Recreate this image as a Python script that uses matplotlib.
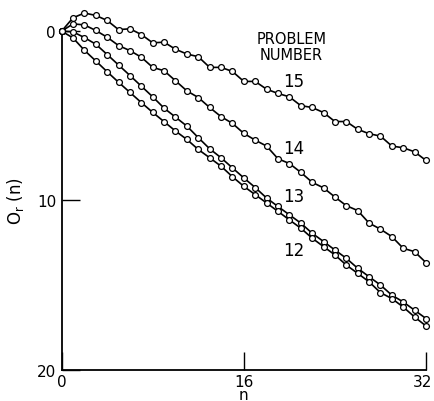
import matplotlib
matplotlib.use('Agg')
import matplotlib.pyplot as plt
import matplotlib.transforms as mtransforms
import numpy as np

# номера шагов
n = np.arange(0, 33)

# значения (ось Y перевёрнута)
prob15 = [0, -0.79, -1.07, -0.93, -0.63, -0.09, -0.14, 0.2, 0.69, 0.65, 1.07,
          1.35, 1.51, 2.14, 2.14, 2.38, 2.97, 2.97, 3.43, 3.68, 3.88,
          4.4, 4.51, 4.81, 5.34, 5.34, 5.8, 6.06, 6.2, 6.79, 6.89, 7.13, 7.64]
prob14 = [0, -0.43, -0.37, -0.04, 0.36, 0.85, 1.15, 1.54, 2.14, 2.34, 2.93,
          3.53, 3.92, 4.51, 5.05, 5.45, 6.04, 6.44, 6.79, 7.54, 7.82,
          8.34, 8.93, 9.26, 9.8, 10.31, 10.6, 11.34, 11.7, 12.14, 12.83, 13.03, 13.68]
prob13 = [0, 0.04, 0.38, 0.77, 1.38, 2.0, 2.62, 3.25, 3.88, 4.55, 5.08,
          5.61, 6.29, 6.95, 7.48, 8.08, 8.67, 9.24, 9.86, 10.36, 10.85,
          11.34, 11.94, 12.43, 12.93, 13.42, 14.01, 14.51, 15.0, 15.6, 16.0, 16.49, 16.98]
prob12 = [0, 0.4, 1.13, 1.76, 2.4, 3.02, 3.62, 4.22, 4.8, 5.35, 5.9,
          6.4, 6.99, 7.48, 7.98, 8.6, 9.17, 9.66, 10.15, 10.65, 11.15,
          11.64, 12.23, 12.73, 13.22, 13.82, 14.31, 14.81, 15.45, 15.8, 16.3, 16.89, 17.42]

curves = {'15': prob15, '14': prob14, '13': prob13, '12': prob12}
label_pos = {'15': (20.35, 2.93), '14': (20.4, 6.89), '13': (20.35, 9.76), '12': (20.4, 12.93)}

xticks = [0, 16, 32]
yticks = [0, 10, 20]

plt.rcParams['font.family'] = ['Liberation Sans Narrow', 'DejaVu Sans']

fig = plt.figure(figsize=(4.34, 4.02), dpi=100)
ax = fig.add_axes([0.142, 0.078, 0.8396, 0.842])

for name, vals in curves.items():
    ax.plot(n, vals, '-', color='black', lw=1.2, marker='o', ms=4.2,
            mfc='white', mec='black', mew=0.9, clip_on=False, zorder=3)
    ax.text(*label_pos[name], name, fontsize=12, ha='center', va='center')

ax.text(20.2, 0.93, 'PROBLEM\nNUMBER', fontsize=10.5, ha='center', va='center',
        linespacing=1.1)

ax.set_xlim(0, 32)
ax.set_ylim(20, 0)
ax.set_xticks(xticks)
ax.set_yticks(yticks)
ax.tick_params(direction='in', length=13, width=1.0, labelsize=11, pad=4)
ax.tick_params(axis='x', pad=3)
for s in ['top', 'right']:
    ax.spines[s].set_visible(False)
for s in ['left', 'bottom']:
    ax.spines[s].set_linewidth(1.3)

# последнюю подпись чуть влево, чтобы не обрезалась
last = ax.get_xticklabels()[-1]
last.set_transform(last.get_transform() +
                   mtransforms.ScaledTranslation(-4 / 100, 0, fig.dpi_scale_trans))

ax.set_xlabel('n', fontsize=11, labelpad=-1)
ax.set_ylabel(r'O$_{\rm r}$ (n)', fontsize=12, labelpad=8)

fig.savefig('out.png', dpi=100)
